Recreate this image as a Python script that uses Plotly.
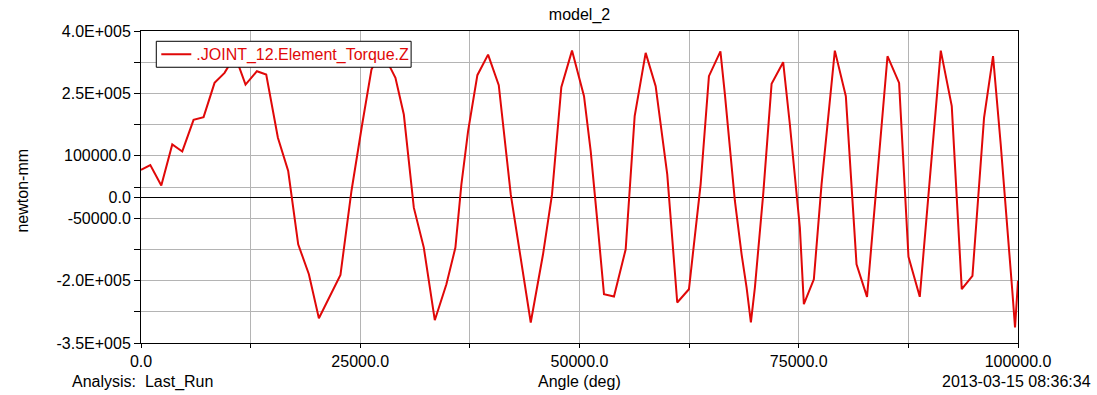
import plotly.graph_objects as go

# Data (Angle in deg, Torque in newton-mm)
angle = [0, 1060, 2313, 3566, 4706, 5993, 7133, 8387, 9526, 10722,
         11919, 13218, 14278, 15611, 16785, 17924, 19143, 20283, 22744, 23998,
         25217, 26277, 27268, 28442, 29012, 29969, 31108, 32248, 33501, 34823,
         35849, 36532, 37296, 38355, 39575, 40794, 42162, 43187, 44440, 45842,
         46867, 47927, 49146, 50514, 51277, 52029, 52793, 53932, 55266, 56291,
         57545, 58684, 60006, 61145, 62479, 63812, 64758, 66068, 66581, 67720,
         68484, 69054, 69543, 69999, 70945, 71902, 73224, 73987, 75127, 75583,
         76722, 77600, 78352, 79115, 80369, 81588, 82785, 85120, 86442, 87513,
         88801, 91194, 92447, 93587, 94806, 96128, 97154, 98031, 99365, 99661,
         100000]
torque = [66000, 77800, 28840, 127240, 110440, 186520, 193000, 275320, 299320, 341000,
          271240, 303400, 295240, 143320, 63400, -112760, -184760, -290360, -186200, 15400,
          175240, 307240, 349720, 311320, 287320, 199240, -24680, -120680, -295160, -208760,
          -120680, 31240, 159400, 293800, 343240, 269800, 7240, -136760, -300680, -136760,
          7240, 265000, 352840, 243400, 111400, -56600, -232760, -238280, -124760, 195400,
          347320, 267400, 55240, -252680, -220760, 31240, 291400, 350920, 247240, -8600,
          -136760, -216680, -300680, -216680, 7240, 272920, 325000, 175240, -72680, -256760,
          -196760, 31240, 191320, 352840, 243400, -160760, -239000, 339400, 275320, -143000,
          -239000, 352840, 219400, -220760, -188600, 191320, 339400, 127240, -228680, -312680,
          -200600]

series_name = ".JOINT_12.Element_Torque.Z"
title_text = "model_2"
y_title = "newton-mm"
x_title = "Angle (deg)"
left_note = "Analysis:\u00a0\u00a0Last_Run"
right_note = "2013-03-15 08:36:34"

y_grid = [-350000, -275000, -200000, -125000, -50000, 0, 25000, 100000, 175000, 250000, 325000, 400000]
y_labels = ["-3.5E+005", "", "-2.0E+005", "", "-50000.0", "0.0", "", "100000.0", "", "2.5E+005", "", "4.0E+005"]
x_grid = [0, 12500, 25000, 37500, 50000, 62500, 75000, 87500, 100000]
x_labels = ["0.0", "", "25000.0", "", "50000.0", "", "75000.0", "", "100000.0"]

RED = "#e00808"
FONT = "Liberation Sans, Arial, sans-serif"
FS = 16

# plot area geometry in page pixels
PL, PR, PT, PB = 140.7, 1018.3, 30.7, 343.0
PW, PH = PR - PL, PB - PT


def px(xp):
    return (xp - PL) / PW


def py(yp):
    return (PB - yp) / PH


fig = go.Figure()
fig.add_trace(go.Scatter(x=angle, y=torque, mode="lines", name=series_name,
                         line=dict(color=RED, width=2), showlegend=True))

fig.update_layout(
    width=1097, height=395,
    margin=dict(l=PL, r=1097 - PR, t=PT, b=395 - PB, pad=0),
    paper_bgcolor="white", plot_bgcolor="white",
    font=dict(family=FONT, size=FS, color="black"),
    title=dict(text=title_text, x=0.5, xref="paper", y=1 - 14 / 395, yref="container",
               xanchor="center", yanchor="middle", font=dict(family=FONT, size=FS, color="black")),
    showlegend=True,
    legend=dict(x=px(156), y=py(54), xanchor="left", yanchor="middle", bgcolor="rgba(0,0,0,0)",
                borderwidth=0, font=dict(family=FONT, size=FS, color=RED), itemwidth=30),
    xaxis=dict(range=[0, 100000], tickvals=x_grid, ticktext=x_labels, showgrid=True,
               gridcolor="#b4b4b4", gridwidth=1, showline=True, linecolor="black", linewidth=1,
               mirror=True, ticks="outside", ticklen=4, tickcolor="black", zeroline=False,
               tickfont=dict(family=FONT, size=FS, color="black")),
    yaxis=dict(range=[-350000, 400000], tickvals=y_grid, ticktext=y_labels, showgrid=True,
               gridcolor="#b4b4b4", gridwidth=1, showline=True, linecolor="black", linewidth=1,
               mirror=True, ticks="outside", ticklen=6, tickcolor="black",
               zeroline=True, zerolinecolor="black", zerolinewidth=1,
               tickfont=dict(family=FONT, size=FS, color="black")),
)

# legend frame (covers the curve like the original legend box)
fig.add_shape(type="rect", xref="paper", yref="paper", x0=px(156), x1=px(411), y0=py(67), y1=py(41),
              line=dict(color="black", width=1), fillcolor="white", layer="above")

fig.add_annotation(text=y_title, xref="paper", yref="paper", x=px(22), y=py(190),
                   textangle=-90, showarrow=False, xanchor="center", yanchor="middle",
                   font=dict(family=FONT, size=FS, color="black"))
fig.add_annotation(text=x_title, xref="paper", yref="paper", x=0.5, y=py(382),
                   showarrow=False, xanchor="center", yanchor="middle",
                   font=dict(family=FONT, size=FS, color="black"))
fig.add_annotation(text=left_note, xref="paper", yref="paper", x=px(70), y=py(382),
                   showarrow=False, xanchor="left", yanchor="middle",
                   font=dict(family=FONT, size=FS, color="black"))
fig.add_annotation(text=right_note, xref="paper", yref="paper", x=px(1093), y=py(382),
                   showarrow=False, xanchor="right", yanchor="middle",
                   font=dict(family=FONT, size=FS, color="black"))

fig.write_html("out.html", config={"displayModeBar": False},
               post_script="document.body.style.margin='0';document.body.style.overflow='hidden';")
